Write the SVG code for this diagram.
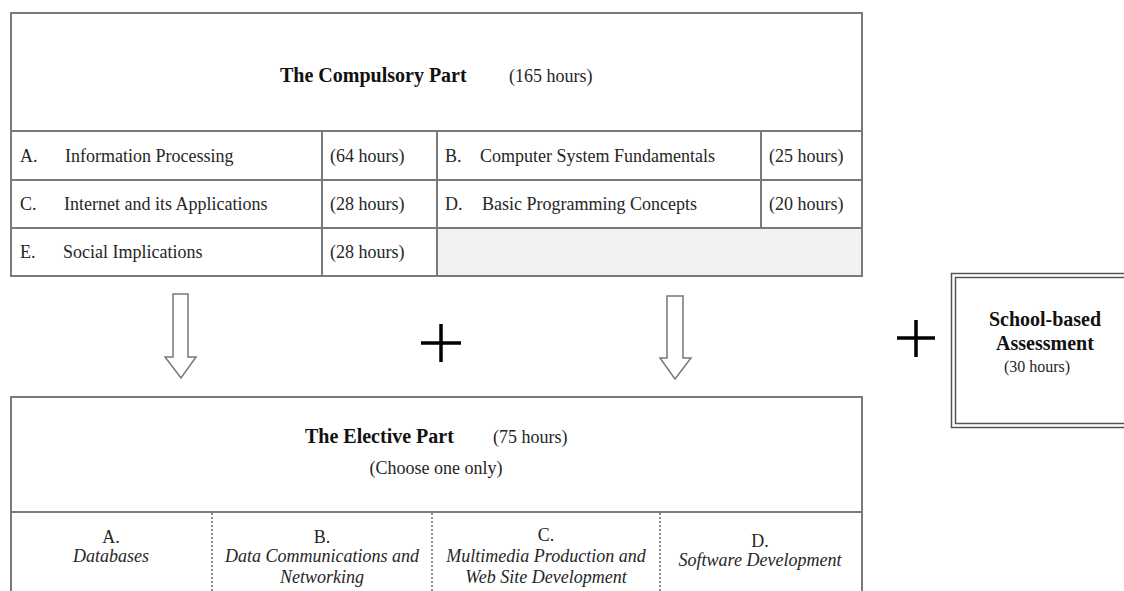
<svg xmlns="http://www.w3.org/2000/svg" width="1124" height="591" viewBox="0 0 1124 591">
<style>
.box{fill:#fff;stroke:#7a7a7a;stroke-width:2}
.ln{stroke:#7a7a7a;stroke-width:2;fill:none}
.dot{stroke:#555;stroke-width:1.3;stroke-dasharray:2 2;fill:none}
.t{font-family:"Liberation Serif","Times New Roman",serif;fill:#262626}
.b{font-weight:bold;font-size:20px;fill:#111}
.r{font-size:18px}
.i{font-size:18px;font-style:italic}
.arrow{fill:#fff;stroke:#777;stroke-width:1.5}
.plus{stroke:#000;stroke-width:3.5}
</style>
<rect width="1124" height="591" fill="#fff"/>
<g id="compulsory">
<rect class="box" x="11" y="13" width="851" height="263"/>
<rect x="437" y="228" width="425" height="48" fill="#f2f2f2"/>
<path class="ln" d="M11 131H862M11 180H862M11 228H862M11 276H862M322 131V276M437 131V276M761 131V228M11 13V276H862V13"/>
<text class="t b" x="280" y="82">The Compulsory Part</text>
<text class="t r" x="509" y="82">(165 hours)</text>
<text class="t r" x="20" y="162">A.</text>
<text class="t r" x="65" y="162">Information Processing</text>
<text class="t r" x="330" y="162">(64 hours)</text>
<text class="t r" x="445" y="162">B.</text>
<text class="t r" x="480" y="162">Computer System Fundamentals</text>
<text class="t r" x="769" y="162">(25 hours)</text>
<text class="t r" x="20" y="210">C.</text>
<text class="t r" x="64" y="210">Internet and its Applications</text>
<text class="t r" x="330" y="210">(28 hours)</text>
<text class="t r" x="445" y="210">D.</text>
<text class="t r" x="482" y="210">Basic Programming Concepts</text>
<text class="t r" x="769" y="210">(20 hours)</text>
<text class="t r" x="20" y="258">E.</text>
<text class="t r" x="63" y="258">Social Implications</text>
<text class="t r" x="330" y="258">(28 hours)</text>
</g>
<g id="connectors">
<polygon class="arrow" points="173,294 188,294 188,357 196,357 181,378 165,357 173,357"/>
<polygon class="arrow" points="667,296 683,296 683,358 691,358 675,379 660,358 667,358"/>
<path class="plus" d="M421 343H461M441 324V362"/>
<path class="plus" d="M897 338H935M916 320V357"/>
</g>
<g id="elective">
<rect class="box" x="11" y="397" width="851" height="200"/>
<path class="ln" d="M11 512H862"/>
<path class="dot" d="M212 513V591M432 513V591M660 513V591"/>
<text class="t b" x="305" y="443">The Elective Part</text>
<text class="t r" x="493" y="443">(75 hours)</text>
<text class="t r" x="436" y="474" text-anchor="middle">(Choose one only)</text>
<g text-anchor="middle">
<text class="t r" x="111" y="543">A.</text>
<text class="t i" x="111" y="562">Databases</text>
<text class="t r" x="322" y="543">B.</text>
<text class="t i" x="322" y="562">Data Communications and</text>
<text class="t i" x="322" y="583">Networking</text>
<text class="t r" x="546" y="541">C.</text>
<text class="t i" x="546" y="562">Multimedia Production and</text>
<text class="t i" x="546" y="583">Web Site Development</text>
<text class="t r" x="760" y="547">D.</text>
<text class="t i" x="760" y="566">Software Development</text>
</g>
</g>
<g id="school-based">
<rect x="951.5" y="273.5" width="180" height="154" fill="#fff" stroke="#555" stroke-width="1.5"/>
<rect x="955.5" y="277.5" width="172" height="146" fill="none" stroke="#555" stroke-width="1.5"/>
<g text-anchor="middle">
<text class="t b" x="1045" y="326">School-based</text>
<text class="t b" x="1045" y="350">Assessment</text>
<text class="t" x="1037" y="372" font-size="16">(30 hours)</text>
</g>
</g>
</svg>
